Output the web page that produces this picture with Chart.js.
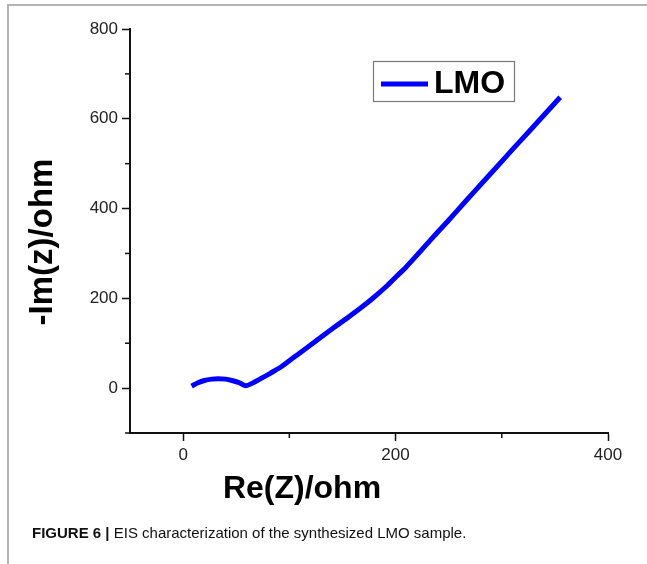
<!DOCTYPE html>
<html>
<head>
<meta charset="utf-8">
<script src="https://cdn.jsdelivr.net/npm/chart.js@4"></script>
<style>
  html, body { margin: 0; padding: 0; background: #fff; }
  #wrap { position: relative; width: 647px; height: 564px; overflow: hidden; }
  #frame { position: absolute; left: 7px; top: 4px; width: 660px; height: 600px;
           border-top: 2px solid #b4b4b4; border-left: 2px solid #b4b4b4; }
  canvas { position: absolute; left: 0; top: 0; }
  #caption { position: absolute; left: 32px; top: 524px; font-family: "Liberation Sans", Arial, sans-serif;
             font-size: 15px; color: #111; white-space: nowrap; }
</style>
</head>
<body>
<div id="wrap">
  <div id="frame"></div>
  <canvas id="eisChart" width="647" height="564"></canvas>
  <div id="caption"><b>FIGURE 6 |</b> EIS characterization of the synthesized LMO sample.</div>
</div>
<script>
// Nyquist data (ohm)
const reZ = [8, 14, 20, 27, 33, 40, 46, 53, 59, 66, 73, 82, 92, 100, 108, 120, 130, 142, 155, 168,
  180, 192, 201, 210, 222, 236, 250, 267, 280, 295, 311, 325, 340, 355];
const imZ = [4.5, 12, 17, 20, 21, 20, 17, 12, 5, 12, 21, 33, 47, 61, 75, 96, 114, 135, 157, 180,
  203, 228, 249, 270, 301, 338, 374, 419, 453, 492, 534, 570, 609, 648];
const seriesName = "LMO";
const xTicks = [0, 200, 400];
const yTicks = [0, 200, 400, 600, 800];

const points = reZ.map((x, i) => ({ x: x, y: imZ[i] }));

// minor ticks + axis titles + boxed legend
const extras = {
  id: "extras",
  afterDraw(chart) {
    const c = chart.ctx;
    const xs = chart.scales.x, ys = chart.scales.y;
    const area = chart.chartArea;
    c.save();
    c.strokeStyle = "#111";
    c.lineWidth = 1.5;
    [100, 300].forEach(v => {
      const px = xs.getPixelForValue(v);
      c.beginPath(); c.moveTo(px, area.bottom); c.lineTo(px, area.bottom + 5); c.stroke();
    });
    [-100, 100, 300, 500, 700].forEach(v => {
      const py = ys.getPixelForValue(v);
      c.beginPath(); c.moveTo(area.left, py); c.lineTo(area.left - 5, py); c.stroke();
    });

    // axis titles
    c.fillStyle = "#000";
    c.font = "bold 32px 'Liberation Sans', Arial, sans-serif";
    c.textAlign = "center";
    c.textBaseline = "alphabetic";
    c.fillText("Re(Z)/ohm", 302, 498);
    c.translate(52, 242);
    c.rotate(-Math.PI / 2);
    c.font = "bold 33px 'Liberation Sans', Arial, sans-serif";
    c.fillText("-Im(z)/ohm", 0, 0);
    c.restore();

    // legend box
    c.save();
    c.fillStyle = "#fff";
    c.fillRect(373, 61, 142, 41);
    c.strokeStyle = "#7a7a7a";
    c.lineWidth = 1.2;
    c.strokeRect(373.5, 61.5, 141, 40);
    c.strokeStyle = "#0000ff";
    c.lineWidth = 5;
    c.beginPath(); c.moveTo(381, 84); c.lineTo(428, 84); c.stroke();
    c.fillStyle = "#000";
    c.font = "bold 32px 'Liberation Sans', Arial, sans-serif";
    c.textBaseline = "alphabetic";
    c.fillText(chart.data.datasets[0].label, 434, 93);
    c.restore();
  }
};

const tickFont = { family: "'Liberation Sans', Arial, sans-serif", size: 17 };

new Chart(document.getElementById("eisChart"), {
  type: "line",
  data: {
    datasets: [{
      label: seriesName,
      data: points,
      borderColor: "#0000ff",
      borderWidth: 5,
      pointRadius: 0,
      tension: 0.3,
      fill: false
    }]
  },
  options: {
    responsive: false,
    animation: false,
    layout: { padding: { left: 0, top: 29, right: 39, bottom: 0 } },
    plugins: { legend: { display: false }, tooltip: { enabled: false } },
    scales: {
      x: {
        type: "linear",
        min: -50,
        max: 400,
        afterFit(s) { s.height = 131; },
        afterBuildTicks(s) { s.ticks = xTicks.map(v => ({ value: v })); },
        ticks: { color: "#222", font: tickFont, padding: 4, maxRotation: 0 },
        grid: { drawOnChartArea: false, tickLength: 8, tickColor: "#111", tickWidth: 1.5 },
        border: { color: "#111", width: 2 }
      },
      y: {
        type: "linear",
        min: -100,
        max: 800,
        afterFit(s) { s.width = 130; },
        afterBuildTicks(s) { s.ticks = yTicks.map(v => ({ value: v })); },
        ticks: { color: "#222", font: tickFont, padding: 4 },
        grid: { drawOnChartArea: false, tickLength: 8, tickColor: "#111", tickWidth: 1.5 },
        border: { color: "#111", width: 2 }
      }
    }
  },
  plugins: [extras]
});
</script>
</body>
</html>
